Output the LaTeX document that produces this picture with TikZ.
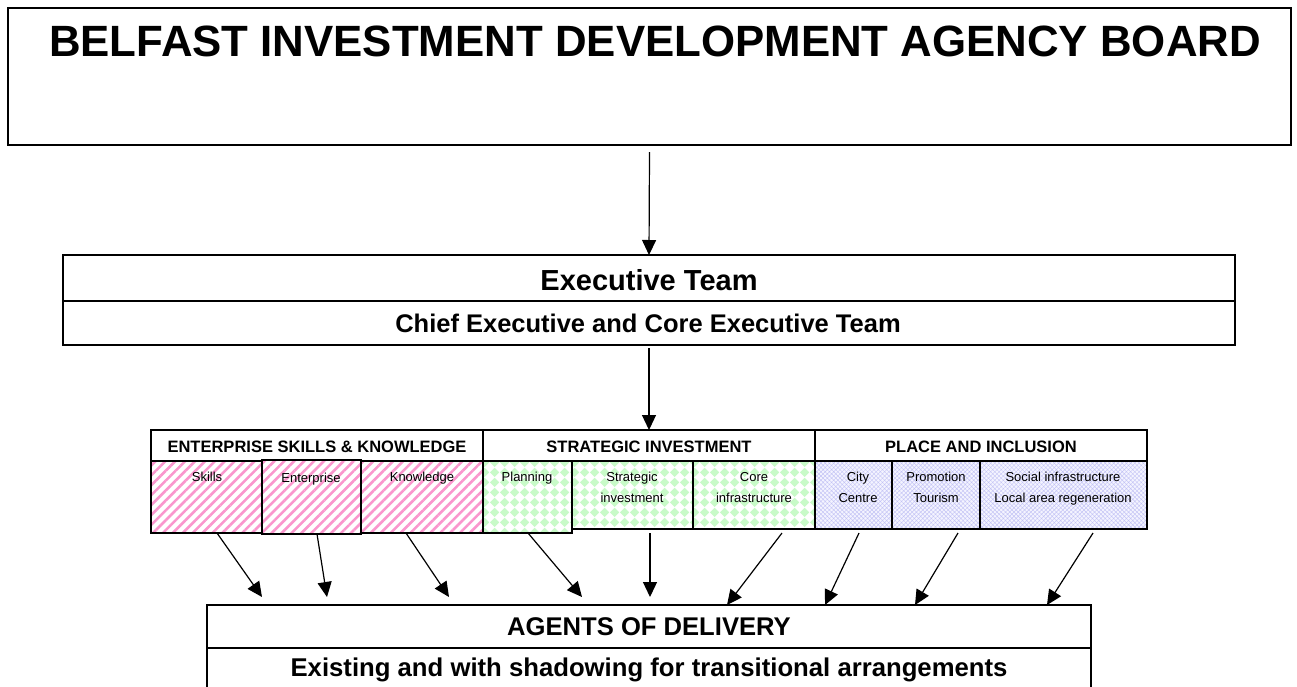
\documentclass[tikz,border=0pt]{standalone}
\usepackage{fontspec}
\setmainfont{Liberation Sans}
\usetikzlibrary{arrows.meta,patterns,patterns.meta}
\definecolor{pinkst}{RGB}{250,150,205}
\definecolor{greenfill}{RGB}{200,250,200}
\definecolor{bluest}{RGB}{195,195,245}
\definecolor{bluefill}{RGB}{244,244,255}
\pgfdeclarepatternformonly{diamondchk}{\pgfpointorigin}{\pgfpoint{10pt}{10pt}}{\pgfpoint{10pt}{10pt}}{%
  \pgfpathmoveto{\pgfpoint{5pt}{0pt}}%
  \pgfpathlineto{\pgfpoint{10pt}{5pt}}%
  \pgfpathlineto{\pgfpoint{5pt}{10pt}}%
  \pgfpathlineto{\pgfpoint{0pt}{5pt}}%
  \pgfpathclose\pgfusepath{fill}}
\begin{document}
\begin{tikzpicture}[x=1pt,y=-1pt,
  box/.style={draw=black, line width=1.3pt, fill=white, anchor=north west, inner sep=0pt, outer sep=0pt},
  cellbase/.style={draw=black, line width=1.1pt, anchor=north west, inner sep=0pt, outer sep=0pt},
  pinkcell/.style={cellbase, preaction={fill=white}, preaction={pattern={Lines[angle=45,distance=7pt,line width=2.6pt]}, pattern color=pinkst}},
  greencell/.style={cellbase, preaction={fill=white}, preaction={pattern=diamondchk, pattern color=greenfill}},
  bluecell/.style={cellbase, preaction={fill=bluefill}, preaction={pattern={Hatch[angle=45,distance=3pt,line width=0.45pt]}, pattern color=bluest}},
  ttl/.style={anchor=base, inner sep=0pt, font=\bfseries\fontsize{43.8}{50}\selectfont},
  big/.style={anchor=base, inner sep=0pt, font=\bfseries\fontsize{29}{34}\selectfont},
  mid/.style={anchor=base, inner sep=0pt, font=\bfseries\fontsize{25.6}{30}\selectfont},
  hdr/.style={anchor=base, inner sep=0pt, font=\bfseries\fontsize{16.5}{20}\selectfont},
  sub/.style={anchor=base, inner sep=0pt, font=\fontsize{13}{16}\selectfont},
  divline/.style={line width=1.3pt},
  arr/.style={line width=1.2pt, -{Triangle[length=15pt,width=14pt]}}
]
\clip (0,0) rectangle (1297,686);
\fill[white] (0,0) rectangle (1297,686);

% Board
\node[box, minimum width=1283pt, minimum height=137pt] (board) at (8,8) {};
\node[ttl] (boardtxt) at (655,56) {BELFAST INVESTMENT DEVELOPMENT AGENCY BOARD};

% Executive team
\node[box, minimum width=1172pt, minimum height=90pt] (exec) at (63,255) {};
\coordinate (execdivL) at (63,301);
\coordinate (execdivR) at (1235,301);
\draw[divline] (execdivL) -- (execdivR);
\node[big] (exectxt) at (649,290) {Executive Team};
\node[mid, font=\bfseries\fontsize{25.5}{30}\selectfont] (chieftxt) at (648,332) {Chief Executive and Core Executive Team};

% Band headers
\node[box, minimum width=332pt, minimum height=31pt] (esk) at (151,430) {};
\node[box, minimum width=332pt, minimum height=31pt] (si) at (483,430) {};
\node[box, minimum width=332pt, minimum height=31pt] (pi) at (815,430) {};
\node[hdr] (esktxt) at (317,452) {ENTERPRISE SKILLS \& KNOWLEDGE};
\node[hdr] (sitxt) at (649,452) {STRATEGIC INVESTMENT};
\node[hdr] (pitxt) at (981,452) {PLACE AND INCLUSION};

% Sub cells: ESK
\node[pinkcell, minimum width=111pt, minimum height=72pt] (skills) at (151,461) {};
\node[pinkcell, minimum width=122pt, minimum height=72pt] (knowledge) at (361,461) {};
\node[pinkcell, minimum width=99pt, minimum height=74pt] (enterprise) at (262,460) {};
\node[sub] (skillstxt) at (207,481) {Skills};
\node[sub] (enttxt) at (311,482) {Enterprise};
\node[sub] (knowtxt) at (422,481) {Knowledge};

% SI
\node[greencell, minimum width=121pt, minimum height=68pt] (strat) at (572,461) {};
\node[greencell, minimum width=122pt, minimum height=68pt] (core) at (693,461) {};
\node[greencell, minimum width=89pt, minimum height=72pt] (planning) at (483,461) {};
\node[sub] (plantxt) at (527,481) {Planning};
\node[sub] (strattxtA) at (632,481) {Strategic};
\node[sub] (strattxtB) at (632,502) {investment};
\node[sub] (coretxtA) at (754,481) {Core};
\node[sub] (coretxtB) at (754,502) {infrastructure};

% PI
\node[bluecell, minimum width=77pt, minimum height=68pt] (city) at (815,461) {};
\node[bluecell, minimum width=88pt, minimum height=68pt] (promo) at (892,461) {};
\node[bluecell, minimum width=167pt, minimum height=68pt] (social) at (980,461) {};
\node[sub] (citytxtA) at (858,481) {City};
\node[sub] (citytxtB) at (858,502) {Centre};
\node[sub] (promotxtA) at (936,481) {Promotion};
\node[sub] (promotxtB) at (936,502) {Tourism};
\node[sub] (socialtxtA) at (1063,481) {Social infrastructure};
\node[sub] (socialtxtB) at (1063,502) {Local area regeneration};

% Agents of delivery
\node[box, minimum width=884pt, minimum height=110pt] (agents) at (207,605) {};
\coordinate (agdivL) at (207,648);
\coordinate (agdivR) at (1091,648);
\draw[divline] (agdivL) -- (agdivR);
\node[mid] (agtxt) at (649,635) {AGENTS OF DELIVERY};
\node[mid, font=\bfseries\fontsize{25.7}{30}\selectfont] (exitxt) at (649,676) {Existing and with shadowing for transitional arrangements};

% Arrows
\draw[arr] ([yshift=-7pt]board.south) -- (exec.north);
\draw[arr] ([yshift=-3pt]exec.south) -- (si.north);

\coordinate (e1) at (262,597);
\coordinate (e2) at (327,597);
\coordinate (e3) at (449,597);
\coordinate (e4) at (582,597);
\coordinate (e5) at (650,597);
\coordinate (e6) at (727,605);
\coordinate (e7) at (825,605);
\coordinate (e8) at (915,605);
\coordinate (e9) at (1047,605);

\draw[arr] ([xshift=66pt]skills.south west) -- (e1);
\draw[arr] ([xshift=55pt]enterprise.south west) -- (e2);
\draw[arr] ([xshift=45pt]knowledge.south west) -- (e3);
\draw[arr] ([xshift=45pt]planning.south west) -- (e4);
\draw[arr] ([xshift=78pt,yshift=-4pt]strat.south west) -- (e5);
\draw[arr] ([xshift=89pt,yshift=-4pt]core.south west) -- (e6);
\draw[arr] ([xshift=44pt,yshift=-4pt]city.south west) -- (e7);
\draw[arr] ([xshift=66pt,yshift=-4pt]promo.south west) -- (e8);
\draw[arr] ([xshift=113pt,yshift=-4pt]social.south west) -- (e9);
\end{tikzpicture}
\end{document}
